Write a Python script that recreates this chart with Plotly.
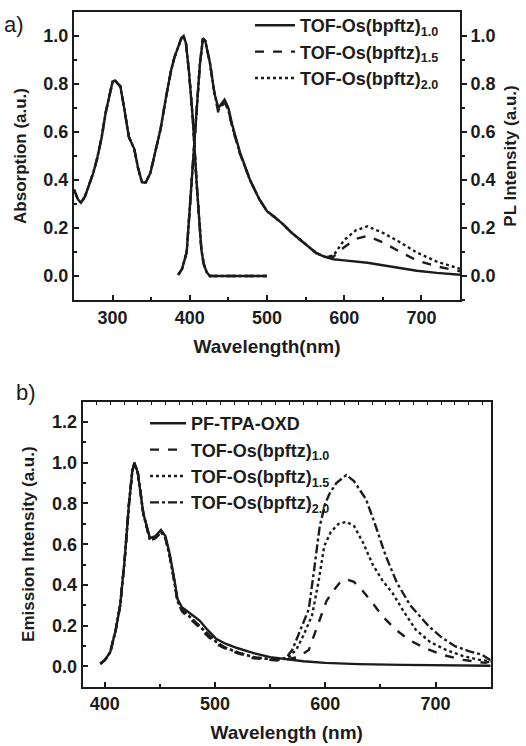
import plotly.graph_objects as go

# ---------------- Panel a data ----------------
abs_wl = [250, 255, 259, 264, 269, 275, 280, 286, 291, 296, 300, 303, 310, 315, 321, 328, 333, 338, 343, 349,
          355, 362, 370, 376, 380, 385, 389, 392, 395, 399, 404, 409, 412, 415, 418, 422, 426, 440, 460, 480, 500]
abs_val = [0.36, 0.32, 0.305, 0.33, 0.375, 0.43, 0.49, 0.58, 0.68, 0.76, 0.81, 0.815, 0.79, 0.70, 0.58, 0.53,
           0.45, 0.39, 0.39, 0.43, 0.51, 0.61, 0.76, 0.86, 0.91, 0.96, 0.99, 1.0, 0.97, 0.85, 0.65, 0.38, 0.24,
           0.11, 0.05, 0.015, 0.0, 0.0, 0.0, 0.0, 0.0]

pl_wl = [385, 390, 396, 402, 406, 409, 413, 417, 420, 426, 432, 437, 441, 445, 450, 455, 465, 478, 490, 500,
         510, 521, 532, 543, 554, 564, 575, 586, 600, 615, 630, 650, 670, 694, 720, 750]
pl_10 = [0.005, 0.03, 0.10, 0.37, 0.57, 0.72, 0.88, 0.99, 0.98, 0.89, 0.76, 0.70, 0.72, 0.735, 0.70, 0.63,
         0.515, 0.40, 0.32, 0.27, 0.245, 0.215, 0.18, 0.15, 0.12, 0.095, 0.08, 0.07, 0.065, 0.06, 0.055, 0.045,
         0.035, 0.022, 0.013, 0.005]
pl_15 = [0.005, 0.03, 0.10, 0.37, 0.57, 0.72, 0.88, 0.99, 0.98, 0.89, 0.76, 0.68, 0.70, 0.725, 0.69, 0.62,
         0.51, 0.40, 0.32, 0.27, 0.245, 0.215, 0.18, 0.15, 0.12, 0.095, 0.08, 0.08, 0.12, 0.155, 0.167, 0.14,
         0.105, 0.065, 0.04, 0.02]
pl_20 = [0.005, 0.03, 0.10, 0.37, 0.57, 0.72, 0.88, 0.99, 0.98, 0.89, 0.76, 0.69, 0.71, 0.73, 0.69, 0.62,
         0.51, 0.40, 0.32, 0.27, 0.245, 0.215, 0.18, 0.15, 0.12, 0.095, 0.08, 0.085, 0.15, 0.19, 0.207, 0.18,
         0.145, 0.098, 0.06, 0.03]

# ---------------- Panel b data ----------------
em_wl_pf = [396, 400, 405, 410, 414, 418, 422, 425, 427, 430, 435, 441, 446, 451, 455, 459, 463, 466, 470, 474,
            480, 486, 493, 501, 510, 520, 535, 550, 565, 580, 600, 630, 670, 710, 750]
em_pf = [0.013, 0.03, 0.07, 0.18, 0.30, 0.52, 0.80, 0.96, 1.0, 0.95, 0.75, 0.63, 0.64, 0.67, 0.64, 0.55, 0.43,
         0.33, 0.29, 0.275, 0.25, 0.225, 0.18, 0.135, 0.11, 0.09, 0.065, 0.045, 0.035, 0.025, 0.017, 0.011,
         0.007, 0.004, 0.003]

em_wl_10 = [396, 400, 405, 410, 414, 418, 422, 425, 427, 430, 435, 441, 446, 451, 455, 459, 463, 466, 470, 474,
            480, 486, 493, 501, 510, 520, 535, 550, 558, 566, 575, 585, 590, 595, 601, 607, 613, 619, 626, 634,
            643, 652, 664, 676, 690, 706, 725, 745, 750]
em_10 = [0.013, 0.03, 0.07, 0.18, 0.30, 0.52, 0.80, 0.96, 1.0, 0.95, 0.75, 0.62, 0.63, 0.66, 0.63, 0.54, 0.42,
         0.32, 0.27, 0.25, 0.22, 0.19, 0.15, 0.11, 0.085, 0.065, 0.04, 0.03, 0.028, 0.035, 0.045, 0.08, 0.15,
         0.23, 0.32, 0.37, 0.41, 0.428, 0.415, 0.37, 0.31, 0.245, 0.18, 0.13, 0.09, 0.057, 0.032, 0.017, 0.025]

em_wl_15 = [396, 400, 405, 410, 414, 418, 422, 425, 427, 430, 435, 441, 446, 451, 455, 459, 463, 466, 470, 474,
            480, 486, 493, 501, 510, 520, 535, 550, 560, 568, 574, 580, 588, 594, 599, 605, 612, 619, 626, 634,
            643, 652, 661, 671, 682, 695, 709, 725, 739, 750]
em_15 = [0.013, 0.03, 0.07, 0.18, 0.30, 0.52, 0.80, 0.96, 1.0, 0.95, 0.75, 0.62, 0.63, 0.66, 0.63, 0.54, 0.42,
         0.32, 0.28, 0.26, 0.23, 0.20, 0.16, 0.12, 0.09, 0.07, 0.045, 0.035, 0.033, 0.05, 0.085, 0.15, 0.25,
         0.42, 0.59, 0.66, 0.70, 0.71, 0.69, 0.61, 0.50, 0.42, 0.36, 0.27, 0.18, 0.12, 0.082, 0.05, 0.033, 0.025]

em_wl_20 = [396, 400, 405, 410, 414, 418, 422, 425, 427, 430, 435, 441, 446, 451, 455, 459, 463, 466, 470, 474,
            480, 486, 493, 501, 510, 520, 535, 550, 560, 565, 570, 576, 580, 585, 590, 595, 600, 604, 610, 619,
            626, 632, 637, 645, 655, 665, 677, 694, 706, 718, 730, 742, 750]
em_20 = [0.013, 0.03, 0.07, 0.18, 0.30, 0.52, 0.80, 0.96, 1.0, 0.95, 0.75, 0.62, 0.63, 0.66, 0.63, 0.54, 0.42,
         0.32, 0.28, 0.26, 0.23, 0.20, 0.16, 0.12, 0.09, 0.07, 0.045, 0.035, 0.033, 0.045, 0.08, 0.16, 0.22,
         0.28, 0.48, 0.69, 0.80, 0.85, 0.90, 0.94, 0.91, 0.86, 0.82, 0.70, 0.54, 0.41, 0.30, 0.196, 0.14, 0.098,
         0.075, 0.057, 0.03]

names_a = ["<b>TOF-Os(bpftz)<sub>1.0</sub></b>", "<b>TOF-Os(bpftz)<sub>1.5</sub></b>",
           "<b>TOF-Os(bpftz)<sub>2.0</sub></b>"]
names_b = ["<b>PF-TPA-OXD</b>", "<b>TOF-Os(bpftz)<sub>1.0</sub></b>", "<b>TOF-Os(bpftz)<sub>1.5</sub></b>",
           "<b>TOF-Os(bpftz)<sub>2.0</sub></b>"]

ticks_a_x = [300, 400, 500, 600, 700]
ticks_b_x = [400, 500, 600, 700]
ticks_a_y = [0.0, 0.2, 0.4, 0.6, 0.8, 1.0]
ticks_b_y = [0.0, 0.2, 0.4, 0.6, 0.8, 1.0, 1.2]


def bold(vals, fmt):
    return ["<b>" + fmt.format(v) + "</b>" for v in vals]


INK = "#1c1c1c"
FONT = "Liberation Sans, Arial, sans-serif"
LW = 2.4

fig = go.Figure()

# Panel a
dashes_a = ["solid", "dash", "dot"]
pls = [pl_10, pl_15, pl_20]
for i in range(3):
    fig.add_trace(go.Scatter(x=abs_wl, y=abs_val, mode="lines", xaxis="x", yaxis="y",
                             line=dict(color=INK, width=LW, dash=dashes_a[i]),
                             legendgroup="a%d" % i, showlegend=False, hoverinfo="skip"))
for i in range(3):
    fig.add_trace(go.Scatter(x=pl_wl, y=pls[i], mode="lines", xaxis="x", yaxis="y2", name=names_a[i],
                             line=dict(color=INK, width=LW, dash=dashes_a[i]),
                             legendgroup="a%d" % i, legend="legend"))

# Panel b
dashes_b = ["solid", "dash", "dot", "dashdot"]
xs_b = [em_wl_pf, em_wl_10, em_wl_15, em_wl_20]
ys_b = [em_pf, em_10, em_15, em_20]
for i in range(4):
    fig.add_trace(go.Scatter(x=xs_b[i], y=ys_b[i], mode="lines", xaxis="x2", yaxis="y3", name=names_b[i],
                             line=dict(color=INK, width=LW, dash=dashes_b[i]), legend="legend2",
                             legendgroup="b%d" % i))

# dummy trace to activate top axis of panel b
fig.add_trace(go.Scatter(x=[380, 750], y=[None, None], xaxis="x3", yaxis="y3", showlegend=False,
                         hoverinfo="skip"))

W, H = 526, 746
TICKF = dict(family=FONT, size=18, color=INK)
ax_common = dict(showline=True, linecolor=INK, linewidth=2, showgrid=False, zeroline=False,
                 tickcolor=INK, tickwidth=1.5, tickfont=TICKF)
XT = dict(family=FONT, size=19, color=INK)
YT = dict(family=FONT, size=17, color=INK)

dom_ax = [74 / W, 460 / W]
dom_ay = [(H - 300) / H, (H - 12) / H]
dom_bx = [82.7 / W, 490.7 / W]
dom_by = [(H - 686.7) / H, (H - 401.7) / H]

fig.update_layout(
    width=W, height=H, margin=dict(l=0, r=0, t=0, b=0),
    paper_bgcolor="white", plot_bgcolor="white",
    font=dict(family=FONT, color=INK),
    xaxis=dict(**ax_common, domain=dom_ax, anchor="y", range=[250, 750], ticks="inside",
               tickvals=ticks_a_x, ticktext=bold(ticks_a_x, "{}"),
               ticklen=5, mirror=True, minor=dict(dtick=50, ticks="inside", ticklen=3, tickcolor=INK),
               title=dict(text="<b>Wavelength(nm)</b>", standoff=13, font=XT)),
    yaxis=dict(**ax_common, domain=dom_ay, anchor="x", range=[-0.1, 1.1], tickvals=ticks_a_y,
               ticktext=bold(ticks_a_y, "{:.1f}"),
               ticks="inside", ticklen=5, mirror=True,
               minor=dict(tickvals=[-0.1, 0.1, 0.3, 0.5, 0.7, 0.9], ticks="inside", ticklen=3, tickcolor=INK),
               title=dict(text="<b>Absorption (a.u.)</b>", standoff=12, font=YT)),
    yaxis2=dict(**ax_common, domain=dom_ay, anchor="x", overlaying="y", side="right", range=[-0.1, 1.1],
                tickvals=ticks_a_y, ticktext=bold(ticks_a_y, "{:.1f}"),
                ticks="outside", ticklen=5,
                minor=dict(tickvals=[-0.1, 0.1, 0.3, 0.5, 0.7, 0.9], ticks="outside", ticklen=3, tickcolor=INK),
                title=dict(text="<b>PL Intensity (a.u.)</b>", standoff=9, font=YT)),
    xaxis2=dict(**ax_common, domain=dom_bx, anchor="y3", range=[380, 750], ticks="inside",
                ticklen=5, mirror=True, minor=dict(dtick=50, ticks="inside", ticklen=3, tickcolor=INK),
                tickvals=ticks_b_x, ticktext=bold(ticks_b_x, "{}"),
                title=dict(text="<b>Wavelength (nm)</b>", standoff=12, font=XT)),
    xaxis3=dict(domain=dom_bx, anchor="y3", overlaying="x2", side="top", range=[380, 750],
                showgrid=False, zeroline=False, showline=False, showticklabels=False,
                ticks="inside", ticklen=3, tickwidth=1, tickcolor=INK, tick0=380, dtick=12.5),
    yaxis3=dict(**ax_common, domain=dom_by, anchor="x2", range=[-0.1, 1.3], mirror=True,
                tickvals=ticks_b_y, ticktext=bold(ticks_b_y, "{:.1f}"),
                ticks="inside", ticklen=5,
                minor=dict(tickvals=[-0.1, 0.1, 0.3, 0.5, 0.7, 0.9, 1.1], ticks="inside", ticklen=3,
                           tickcolor=INK),
                title=dict(text="<b>Emission Intensity (a.u.)</b>", standoff=13, font=YT)),
    legend=dict(x=250 / W, y=(H - 7) / H, xanchor="left", yanchor="top", bgcolor="rgba(0,0,0,0)",
                font=dict(family=FONT, size=18, color=INK), tracegroupgap=0, itemwidth=40),
    legend2=dict(x=145 / W, y=(H - 405) / H, xanchor="left", yanchor="top", bgcolor="rgba(0,0,0,0)",
                 font=dict(family=FONT, size=18, color=INK), tracegroupgap=0, itemwidth=36),
    annotations=[
        dict(text="a)", x=2 / W, y=(H - 24) / H, xref="paper", yref="paper", showarrow=False,
             xanchor="left", yanchor="middle", font=dict(family=FONT, size=22, color=INK)),
        dict(text="b)", x=14 / W, y=(H - 392) / H, xref="paper", yref="paper", showarrow=False,
             xanchor="left", yanchor="middle", font=dict(family=FONT, size=22, color=INK)),
    ],
)

fig.write_html("out.html")
